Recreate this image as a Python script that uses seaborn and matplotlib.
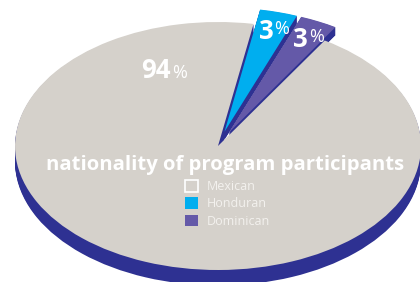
import matplotlib
matplotlib.use("Agg")
import numpy as np
import matplotlib.pyplot as plt
import seaborn as sns
from matplotlib.patches import Patch

# ---- data ----
categories = ["Mexican", "Honduran", "Dominican"]
shares = [94, 3, 3]
title_text = "nationality of program participants"

sns.set_theme(style="white")
plt.rcParams["font.family"] = ["Open Sans", "DejaVu Sans"]

palette = sns.color_palette(["#d5d1cb", "#00aeef", "#6459a8"])
navy = "#2e3192"
W, H = 420, 282

fig = plt.figure(figsize=(W / 100, H / 100), dpi=100)
fig.patch.set_facecolor("white")
ax = fig.add_axes([0, 0, 1, 1])

explode = [0, 0.12, 0.12]
start = 58.3
pie_kw = dict(explode=explode, startangle=start, counterclock=False,
              wedgeprops=dict(linewidth=0), normalize=True)

# side walls (depth) of the main body and of the pulled-out slices
n = 16
big_depth, small_depth = 0.125, 0.065
for k in range(n, 0, -1):
    ax.pie(shares, colors=[navy, "none", "none"],
           center=(0, -big_depth * k / n), **pie_kw)
for k in range(n, 0, -1):
    ax.pie(shares, colors=["none", navy, navy],
           center=(0, -small_depth * k / n), **pie_kw)
# top faces
wedges, _ = ax.pie(shares, colors=palette, center=(0, 0), **pie_kw)

cx, cy, a, b = 218, 146, 203, 124
ax.set_aspect("auto")
ax.set_xlim(-cx / a, (W - cx) / a)
ax.set_ylim(-(H - cy) / b, cy / b)
ax.axis("off")


def px(x, y):
    return x / W, 1 - y / H


digit_size, pct_size = 18.5, 13
# percentage labels
for i, (cat, val) in enumerate(zip(categories, shares)):
    w = wedges[i]
    if i == 0:
        x, y = 171, 78
        ax.text(*px(x, y), f"{val}", transform=ax.transAxes, ha="right",
                va="baseline", fontsize=digit_size, fontweight="bold", color="white")
        ax.text(*px(x + 1, y), "%", transform=ax.transAxes, ha="left",
                va="baseline", fontsize=pct_size, color="white")
    else:
        mid = np.deg2rad((w.theta1 + w.theta2) / 2)
        r = 0.85 + explode[i]
        x = cx + a * r * np.cos(mid) + 3
        y = cy - b * r * np.sin(mid) + 9
        ax.text(*px(x, y), f"{val}", transform=ax.transAxes, ha="right",
                va="baseline", fontsize=digit_size, fontweight="bold", color="white")
        ax.text(*px(x + 1, y - 19), "%", transform=ax.transAxes, ha="left",
                va="top", fontsize=pct_size, color="white")

ax.text(*px(225, 170), title_text, transform=ax.transAxes, ha="center",
        va="baseline", fontsize=14.6, fontweight="bold", color="white")

handles = [Patch(facecolor=palette[0], edgecolor="white", linewidth=1.2),
           Patch(facecolor=palette[1], edgecolor="none"),
           Patch(facecolor=palette[2], edgecolor="none")]
ax.legend(handles, categories, loc="upper left",
          bbox_to_anchor=(185 / W, 1 - 180 / H), bbox_transform=fig.transFigure,
          frameon=False, fontsize=9, labelcolor="#f3f1ee",
          handlelength=1.04, handleheight=1.04, handletextpad=0.7,
          labelspacing=0.35, borderpad=0, borderaxespad=0)

fig.savefig("out.png", dpi=100, facecolor="white")
